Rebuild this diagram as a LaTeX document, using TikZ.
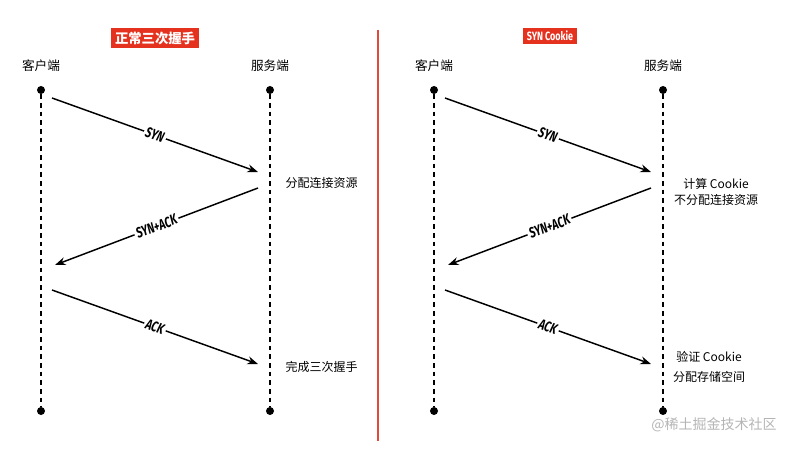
\documentclass[tikz,border=0pt]{standalone}
\usepackage{fontspec}
\setmainfont{Noto Sans CJK SC}
\newfontfamily\msgfont{Fira Sans}
\usetikzlibrary{arrows.meta,positioning}
\definecolor{TitleRed}{HTML}{E5321F}
\definecolor{SplitRed}{HTML}{E04A3C}
\definecolor{MarkGray}{HTML}{B5B5B5}

\begin{document}
\begin{tikzpicture}[x=0.75pt,y=-0.75pt,
  dot/.style={circle,fill=black,inner sep=0pt,minimum size=6pt},
  life/.style={line width=2.1pt,dash pattern=on 3.5pt off 3pt},
  msg/.style={line width=1.1pt,-{Stealth[length=8pt,width=6pt]}},
  tag/.style={fill=white,inner sep=1.5pt,sloped,font=\msgfont\bfseries\itshape\fontsize{11}{12}\selectfont},
  head/.style={font=\fontsize{9.5}{11}\selectfont},
  note/.style={font=\fontsize{9}{11}\selectfont,align=center},
  title/.style={fill=TitleRed,text=white,inner sep=3pt,font=\bfseries\fontsize{10}{12}\selectfont}]
\useasboundingbox (0,0) rectangle (803,449);

% left: normal handshake
\node[title] (tl) at (155,38) {正常三次握手};
\node[head] (cl) at (41,66) {客户端};
\node[head] (sl) at (270,66) {服务端};
\node[dot] (clt) at (41,90) {};
\node[dot] (clb) at (41,411) {};
\node[dot] (slt) at (270,90) {};
\node[dot] (slb) at (270,411) {};
\draw[life] (clt) -- (clb);
\draw[life] (slt) -- (slb);
\coordinate (l1a) at (52,98);   \coordinate (l1b) at (258,172);
\coordinate (l2a) at (258,188); \coordinate (l2b) at (55,265);
\coordinate (l3a) at (52,290);  \coordinate (l3b) at (258,364);
\draw[msg] (l1a) -- node[tag] {\scalebox{0.72}[1]{SYN}} (l1b);
\draw[msg] (l2a) -- node[tag] {\scalebox{0.72}[1]{SYN+ACK}} (l2b);
\draw[msg] (l3a) -- node[tag] {\scalebox{0.72}[1]{ACK}} (l3b);
\node[note,anchor=west] (nl1) at (281,183) {分配连接资源};
\node[note,anchor=west] (nl2) at (281,367) {完成三次握手};

% divider
\coordinate (dtop) at (378,30);
\coordinate (dbot) at (378,441);
\draw[SplitRed,line width=1.4pt] (dtop) -- (dbot);

% right: syn cookie
\node[title,inner sep=2.5pt,font=\msgfont\bfseries\fontsize{9}{10}\selectfont] (tr) at (550,36) {\scalebox{0.75}[1]{SYN Cookie}};
\node[head] (cr) at (434,66) {客户端};
\node[head] (sr) at (663,66) {服务端};
\node[dot] (crt) at (434,90) {};
\node[dot] (crb) at (434,411) {};
\node[dot] (srt) at (663,90) {};
\node[dot] (srb) at (663,411) {};
\draw[life] (crt) -- (crb);
\draw[life] (srt) -- (srb);
\coordinate (r1a) at (445,98);  \coordinate (r1b) at (651,172);
\coordinate (r2a) at (651,188); \coordinate (r2b) at (448,265);
\coordinate (r3a) at (445,290); \coordinate (r3b) at (651,364);
\draw[msg] (r1a) -- node[tag] {\scalebox{0.72}[1]{SYN}} (r1b);
\draw[msg] (r2a) -- node[tag] {\scalebox{0.72}[1]{SYN+ACK}} (r2b);
\draw[msg] (r3a) -- node[tag] {\scalebox{0.72}[1]{ACK}} (r3b);
\node[note,font=\fontsize{9}{12}\selectfont] (nr1) at (716,192) {计算 Cookie\\不分配连接资源};
\node[note,font=\fontsize{9}{15}\selectfont] (nr2) at (709,367) {验证 Cookie\\分配存储空间};

\node[text=MarkGray,font=\fontsize{10.5}{12}\selectfont] (wm) at (714,425) {@稀土掘金技术社区};
\end{tikzpicture}
\end{document}
